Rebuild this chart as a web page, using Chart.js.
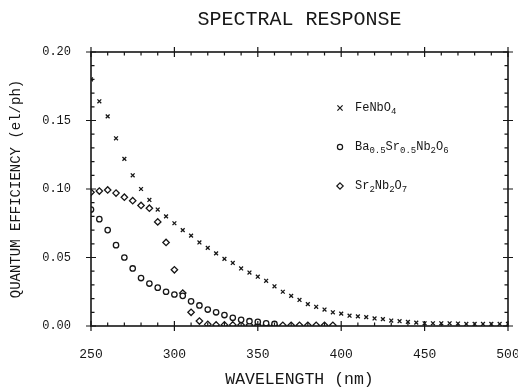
<!DOCTYPE html>
<html>
<head>
<meta charset="utf-8">
<script src="https://cdn.jsdelivr.net/npm/chart.js@4.4.1/dist/chart.umd.min.js"></script>
<style>
  html, body { margin: 0; padding: 0; background: #fff; }
  #wrap { width: 518px; height: 388px; }
</style>
</head>
<body>
<div id="wrap"><canvas id="spectral" width="518" height="388"></canvas></div>
<script>
/* Spectral response of three niobates — quantum efficiency vs wavelength */

const INK = '#161616';
const FONT = "'Liberation Mono', 'DejaVu Sans Mono', monospace";

// FeNbO4 (x markers)
const FE_NM = [250, 255, 260, 265, 270, 275, 280, 285, 290, 295, 300, 305, 310, 315, 320, 325, 330,
  335, 340, 345, 350, 355, 360, 365, 370, 375, 380, 385, 390, 395, 400, 405, 410, 415, 420, 425,
  430, 435, 440, 445, 450, 455, 460, 465, 470, 475, 480, 485, 490, 495, 500];
const FE_QE = [0.180, 0.164, 0.153, 0.137, 0.122, 0.110, 0.100, 0.092, 0.085, 0.080, 0.075, 0.070,
  0.066, 0.061, 0.057, 0.053, 0.049, 0.046, 0.042, 0.039, 0.036, 0.033, 0.029, 0.025, 0.022, 0.019,
  0.016, 0.014, 0.012, 0.010, 0.009, 0.0075, 0.007, 0.0065, 0.0055, 0.005, 0.004, 0.0035, 0.003,
  0.0025, 0.002, 0.002, 0.002, 0.002, 0.0018, 0.0015, 0.0015, 0.0015, 0.0015, 0.0015, 0.0015];

// Ba0.5Sr0.5Nb2O6 (open circles)
const BA_NM = [250, 255, 260, 265, 270, 275, 280, 285, 290, 295, 300, 305, 310, 315, 320, 325, 330,
  335, 340, 345, 350, 355, 360];
const BA_QE = [0.085, 0.078, 0.070, 0.059, 0.050, 0.042, 0.035, 0.031, 0.028, 0.025, 0.023, 0.022,
  0.018, 0.015, 0.012, 0.010, 0.008, 0.006, 0.0045, 0.0035, 0.003, 0.002, 0.0015];

// Sr2Nb2O7 (diamonds)
const SR_NM = [250, 255, 260, 265, 270, 275, 280, 285, 290, 295, 300, 305, 310, 315, 320, 325, 330,
  335, 340, 345, 350, 355, 360, 365, 370, 375, 380, 385, 390, 395];
const SR_QE = [0.0976, 0.0985, 0.0993, 0.097, 0.094, 0.0915, 0.088, 0.086, 0.076, 0.061, 0.041, 0.024,
  0.010, 0.0036, 0.0012, 0.0008, 0.0008, 0.0008, 0.0007, 0.0007, 0.0006, 0.0006, 0.0005, 0.0005,
  0.0005, 0.0005, 0.0005, 0.0005, 0.0005, 0.0005];

// legend names, split into [text, isSubscript] runs
const NAMES = ['FeNbO4', 'Ba0.5Sr0.5Nb2O6', 'Sr2Nb2O7'];
const NAME_RUNS = [
  [['FeNbO', 0], ['4', 1]],
  [['Ba', 0], ['0.5', 1], ['Sr', 0], ['0.5', 1], ['Nb', 0], ['2', 1], ['O', 0], ['6', 1]],
  [['Sr', 0], ['2', 1], ['Nb', 0], ['2', 1], ['O', 0], ['7', 1]],
];

const X_MIN = 250, X_MAX = 500, X_STEP = 10;
const Y_MIN = 0, Y_MAX = 0.20, Y_STEP = 0.01;

const toPoints = (xs, ys) => xs.map((v, i) => ({ x: v, y: ys[i] }));

// little marker shapes for the legend
function drawMarker(ctx, style, cx, cy) {
  ctx.beginPath();
  if (style === 'crossRot') {
    const r = 2.6;
    ctx.moveTo(cx - r, cy - r); ctx.lineTo(cx + r, cy + r);
    ctx.moveTo(cx + r, cy - r); ctx.lineTo(cx - r, cy + r);
    ctx.stroke();
    return;
  }
  if (style === 'circle') {
    ctx.arc(cx, cy, 2.6, 0, Math.PI * 2);
  } else {
    const r = 3.2;
    ctx.moveTo(cx, cy - r); ctx.lineTo(cx + r, cy); ctx.lineTo(cx, cy + r); ctx.lineTo(cx - r, cy);
    ctx.closePath();
  }
  ctx.fill();
  ctx.stroke();
}

// boxed frame with inward minor ticks and crossing major ticks
const frameTicks = {
  id: 'frameTicks',
  afterDatasetsDraw(chart) {
    const { ctx, chartArea: a, scales: { x, y } } = chart;
    ctx.save();
    ctx.strokeStyle = INK;
    ctx.lineWidth = 1.6;
    ctx.strokeRect(a.left, a.top, a.right - a.left, a.bottom - a.top);
    ctx.lineWidth = 1.2;
    ctx.beginPath();
    x.ticks.forEach(t => {
      const px = x.getPixelForValue(t.value);
      const major = Math.round(t.value) % 50 === 0;
      const out = major ? 5 : 0, inn = major ? 5 : 3.5;
      ctx.moveTo(px, a.bottom + out); ctx.lineTo(px, a.bottom - inn);
      ctx.moveTo(px, a.top - out); ctx.lineTo(px, a.top + inn);
    });
    y.ticks.forEach(t => {
      const py = y.getPixelForValue(t.value);
      const major = Math.round(t.value * 100) % 5 === 0;
      const out = major ? 5 : 0, inn = major ? 5 : 3.5;
      ctx.moveTo(a.left - out, py); ctx.lineTo(a.left + inn, py);
      ctx.moveTo(a.right + out, py); ctx.lineTo(a.right - inn, py);
    });
    ctx.stroke();
    ctx.restore();
  },
};

// in-plot legend with subscripted formulas
const formulaLegend = {
  id: 'formulaLegend',
  afterDraw(chart) {
    const { ctx, chartArea: a } = chart;
    ctx.save();
    ctx.strokeStyle = INK;
    ctx.lineWidth = 1.2;
    ctx.textBaseline = 'middle';
    chart.data.datasets.forEach((ds, i) => {
      const cy = a.top + 56 + i * 39;
      ctx.fillStyle = ds.pointStyle === 'crossRot' ? INK : '#fff';
      drawMarker(ctx, ds.pointStyle, a.left + 249, cy);
      ctx.fillStyle = INK;
      let tx = a.left + 264;
      NAME_RUNS[i].forEach(([txt, sub]) => {
        ctx.font = sub ? `9px ${FONT}` : `12px ${FONT}`;
        ctx.fillText(txt, tx, sub ? cy + 4 : cy);
        tx += ctx.measureText(txt).width;
      });
    });
    ctx.restore();
  },
};

const STYLES = ['crossRot', 'circle', 'rectRot'];

const datasets = [
  { label: NAMES[0], data: toPoints(FE_NM, FE_QE) },
  { label: NAMES[1], data: toPoints(BA_NM, BA_QE) },
  { label: NAMES[2], data: toPoints(SR_NM, SR_QE) },
].map((d, i) => ({
  ...d,
  showLine: false,
  pointStyle: STYLES[i],
  pointRadius: i === 2 ? 3.2 : 2.7,
  pointBorderWidth: 1.3,
  borderColor: INK,
  backgroundColor: i === 0 ? INK : '#fff',
  pointHoverRadius: 3,
}));

new Chart(document.getElementById('spectral').getContext('2d'), {
  type: 'scatter',
  data: { datasets },
  options: {
    responsive: false,
    animation: false,
    layout: { padding: 0 },
    plugins: {
      legend: { display: false },
      tooltip: { enabled: false },
      title: {
        display: true,
        fullSize: false,
        text: 'SPECTRAL RESPONSE',
        color: INK,
        font: { family: FONT, size: 20, weight: 'normal' },
        padding: { top: 8, bottom: 20 },
      },
    },
    scales: {
      x: {
        type: 'linear',
        min: X_MIN,
        max: X_MAX,
        afterFit: s => { s.height = 62; s.paddingLeft = 0; s.paddingRight = 10; },
        grid: { display: false, drawTicks: false },
        border: { display: false },
        ticks: {
          stepSize: X_STEP,
          autoSkip: false,
          maxRotation: 0,
          padding: 21,
          color: INK,
          font: { family: FONT, size: 13 },
          callback: v => (Math.round(v) % 50 === 0 ? String(Math.round(v)) : ''),
        },
        title: {
          display: true,
          text: 'WAVELENGTH (nm)',
          color: INK,
          font: { family: FONT, size: 16.5, lineHeight: 1 },
          padding: { top: 0, bottom: 0 },
        },
      },
      y: {
        type: 'linear',
        min: Y_MIN,
        max: Y_MAX,
        afterFit: s => { s.width = 91; s.paddingTop = 0; s.paddingBottom = 0; },
        grid: { display: false, drawTicks: false },
        border: { display: false },
        ticks: {
          stepSize: Y_STEP,
          autoSkip: false,
          padding: 20,
          color: INK,
          font: { family: FONT, size: 12 },
          callback: v => (Math.round(v * 100) % 5 === 0 ? v.toFixed(2) : ''),
        },
        title: {
          display: true,
          text: 'QUANTUM EFFICIENCY (el/ph)',
          color: INK,
          font: { family: FONT, size: 14 },
          padding: { top: 8, bottom: 0 },
        },
      },
    },
  },
  plugins: [frameTicks, formulaLegend],
});
</script>
</body>
</html>
